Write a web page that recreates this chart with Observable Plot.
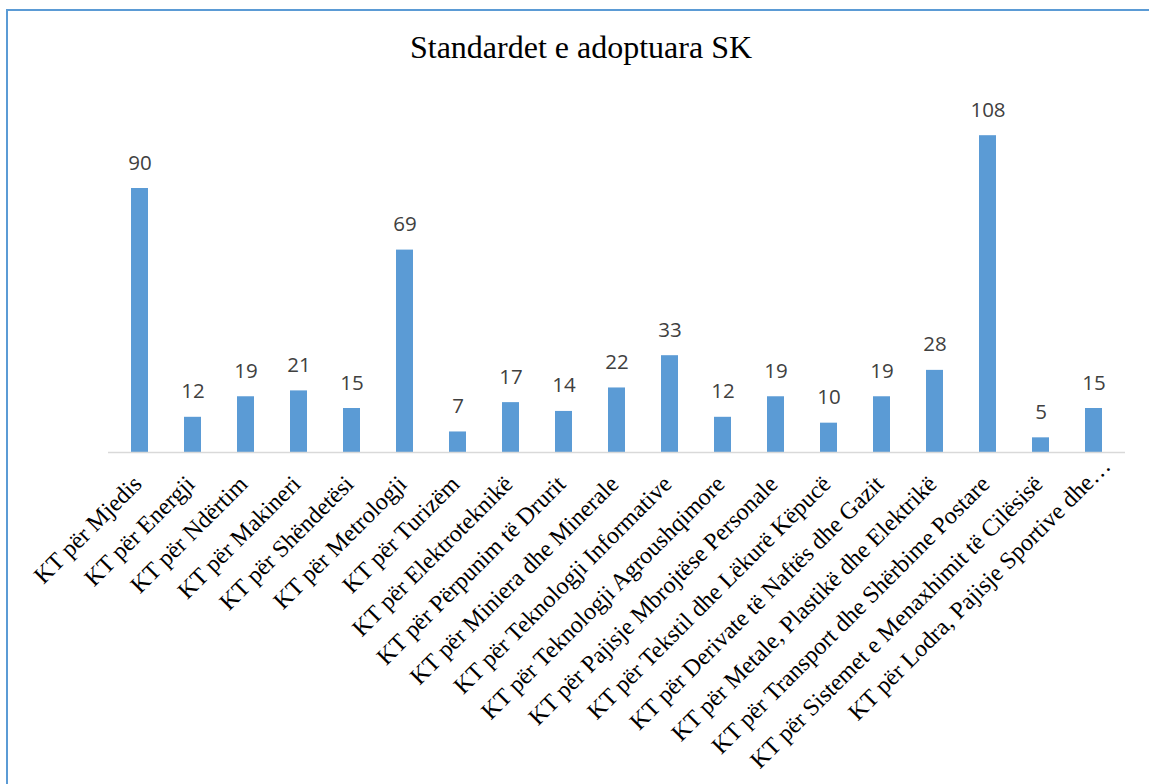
<!DOCTYPE html>
<html>
<head>
<meta charset="utf-8">
<script src="https://cdn.jsdelivr.net/npm/d3@7"></script>
<script src="https://cdn.jsdelivr.net/npm/@observablehq/plot@0.6"></script>
<style>
  html, body { margin: 0; padding: 0; background: #fff; overflow: hidden; width: 1149px; height: 784px; }
  #frame { position: absolute; left: 6px; top: 9px; width: 1400px; height: 1000px;
           border-left: 2px solid #5b9bd5; border-top: 2px solid #5b9bd5; box-sizing: border-box; }
  #wrap { position: absolute; left: 0; top: 0; width: 1149px; }
  #title { position: absolute; left: 0; top: 31px; width: 1162px; text-align: center;
           font-family: "Liberation Serif", "Times New Roman", serif; font-size: 32px; line-height: 32px; color: #000; }
  #chart { position: absolute; left: 0; top: 60px; }
</style>
</head>
<body>
<div id="frame"></div>
<div id="wrap">
  <div id="title">Standardet e adoptuara SK</div>
  <div id="chart"></div>
</div>
<script>
const categories = [
  "KT për Mjedis",
  "KT për Energji",
  "KT për Ndërtim",
  "KT për Makineri",
  "KT për Shëndetësi",
  "KT për Metrologji",
  "KT për Turizëm",
  "KT për Elektroteknikë",
  "KT për Përpunim të Drurit",
  "KT për Miniera dhe Minerale",
  "KT për Teknologji Informative",
  "KT për Teknologji Agroushqimore",
  "KT për Pajisje Mbrojtëse Personale",
  "KT për Tekstil dhe Lëkurë Këpucë",
  "KT për Derivate të Naftës dhe Gazit",
  "KT për Metale, Plastikë dhe Elektrikë",
  "KT për Transport dhe Shërbime Postare",
  "KT për Sistemet e Menaxhimit të Cilësisë",
  "KT për Lodra, Pajisje Sportive dhe…"
];
const values = [90, 12, 19, 21, 15, 69, 7, 17, 14, 22, 33, 12, 19, 10, 19, 28, 108, 5, 15];

const data = categories.map((c, i) => ({category: c, value: values[i]}));
const isTruncated = d => d.category.endsWith("…");

const labelStyle = {
  x: "category", frameAnchor: "bottom", text: "category",
  rotate: -45, textAnchor: "end", lineAnchor: "bottom",
  fontFamily: "'Liberation Serif', 'Times New Roman', serif", fontSize: 24, fill: "#000"
};

const chart = Plot.plot({
  width: 1149,
  height: 724,
  marginLeft: 108,
  marginRight: 24,
  marginTop: 40,
  marginBottom: 332,
  style: {background: "transparent", overflow: "visible"},
  x: {domain: categories, paddingInner: 0.68, paddingOuter: 0.345, axis: null},
  y: {domain: [0, 120], axis: null},
  marks: [
    Plot.barY(data, {x: "category", y: "value", fill: "#5b9bd5"}),
    Plot.ruleY([0], {stroke: "#d9d9d9", strokeWidth: 1.5}),
    Plot.text(data, {
      x: "category", y: "value", text: d => String(d.value),
      lineAnchor: "bottom", dy: -19,
      fontFamily: "'Open Sans', sans-serif", fontSize: 20.5, fill: "#404040"
    }),
    Plot.text(data, {...labelStyle, filter: d => !isTruncated(d), dx: 3, dy: 33}),
    Plot.text(data, {...labelStyle, filter: isTruncated, dx: 18, dy: 15})
  ]
});
document.getElementById("chart").appendChild(chart);
</script>
</body>
</html>
